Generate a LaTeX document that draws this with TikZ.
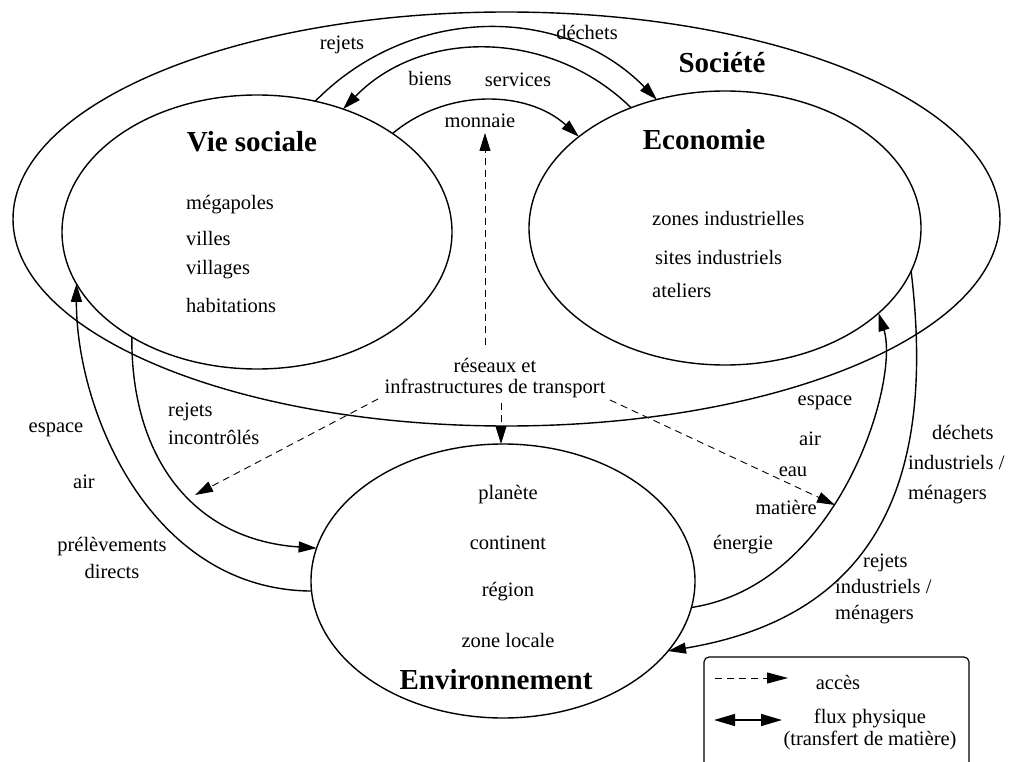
\documentclass[tikz,border=0pt]{standalone}
\usepackage{fontspec}
\setmainfont{Liberation Serif}
\usetikzlibrary{arrows.meta,shapes.geometric}
\begin{document}
\begin{tikzpicture}[x=1pt,y=-1pt,
  every node/.style={font=\fontsize{20.5}{24}\selectfont, inner sep=0pt},
  blob/.style={draw, ellipse, line width=1.4pt, inner sep=0pt, outer sep=0pt},
  title/.style={font=\fontsize{29}{34}\selectfont\bfseries},
  flux/.style={line width=1.4pt, -{Triangle[length=18pt,width=11pt]}},
  acces/.style={line width=0.9pt, dash pattern=on 7pt off 5pt, -{Triangle[length=18pt,width=11pt]}},
  item/.style={anchor=west},
]
\useasboundingbox (0,0) rectangle (1020,762);

% ellipses
\node[blob, minimum width=987pt, minimum height=414pt] (soc) at (506.5,219) {};
\node[blob, minimum width=390pt, minimum height=274pt] (vie) at (257,232) {};
\node[blob, minimum width=392pt, minimum height=274pt] (eco) at (725,228) {};
\node[blob, minimum width=384pt, minimum height=274pt] (env) at (503,581) {};

% titles
\node[title] (tsoc) at (722,63) {Société};
\node[title] (tvie) at (252,142) {Vie sociale};
\node[title] (teco) at (704,140) {Economie};
\node[title] (tenv) at (496,680) {Environnement};

% contents
\node[item] (v1) at (186,205) {mégapoles};
\node[item] (v2) at (186,238) {villes};
\node[item] (v3) at (186,270) {villages};
\node[item] (v4) at (186,305) {habitations};
\node[item] (e1) at (652,218) {zones industrielles};
\node[item] (e2) at (655,257) {sites industriels};
\node[item] (e3) at (652,290) {ateliers};
\node (n1) at (508,495) {planète};
\node (n2) at (508,543) {continent};
\node (n3) at (508,592) {région};
\node (n4) at (508,640) {zone locale};

% transport node
\node[align=center, font=\fontsize{20.5}{21}\selectfont] (res) at (495,378) {réseaux et\\infrastructures de transport};

% physical flows
\draw[flux] (vie.66) .. controls (411,4) and (563,4) .. (eco.118);
\draw[flux] (eco.128) .. controls (552,30) and (423,27) .. (vie.55);
\draw[flux] (vie.36) .. controls (447,88) and (527,90) .. (eco.148);
\draw[flux] (vie.220) .. controls (131,460) and (195,540) .. (env.170);
\draw[flux] (env.183) .. controls (150,590) and (76,410) .. (vie.196);
\draw[flux] (env.352) .. controls (840,585) and (900,380) .. (eco.331);
\draw[flux] (eco.347) .. controls (935,470) and (885,615) .. (env.337);

% access (dashed)
\coordinate (upS) at (485,345);
\coordinate (upT) at (485,133);
\coordinate (dnS) at (501,403);
\coordinate (lfS) at (378,399);
\coordinate (lfT) at (195,495);
\coordinate (rtS) at (610,400);
\coordinate (rtT) at (835,505);
\draw[acces] (upS) -- (upT);
\draw[acces] (dnS) -- (dnS |- env.north);
\draw[acces] (lfS) -- (lfT);
\draw[acces] (rtS) -- (rtT);

% labels
\node (l1) at (342,45) {rejets};
\node (l2) at (587,32) {déchets};
\node (l3) at (430,78) {biens};
\node (l4) at (518,80) {services};
\node (l5) at (480,121) {monnaie};
\node (l6) at (56,430) {espace};
\node (l7) at (84,482) {air};
\node[align=center, font=\fontsize{20.5}{27}\selectfont] (l8) at (112,558) {prélèvements\\directs};
\node[anchor=west, align=left, font=\fontsize{20.5}{28}\selectfont] (l9) at (168,424) {rejets\\incontrôlés};
\node (r1) at (825,403) {espace};
\node (r2) at (810,439) {air};
\node (r3) at (793,472) {eau};
\node (r4) at (786,507) {matière};
\node (r5) at (743,545) {énergie};
\node[anchor=west, align=left, font=\fontsize{20.5}{30}\selectfont] (r6) at (908,465) {\hspace*{24pt}déchets\\industriels /\\ménagers};
\node[anchor=west, align=left, font=\fontsize{20.5}{26}\selectfont] (r7) at (835,589) {\hspace*{28pt}rejets\\industriels /\\ménagers};

% legend
\draw[line width=1.2pt, rounded corners=5pt] (704,657) rectangle (969,800);
\coordinate (la1) at (715,678);
\coordinate (la2) at (788,678);
\coordinate (lb1) at (714,720);
\coordinate (lb2) at (782,720);
\draw[acces, -{Triangle[length=21pt,width=11pt]}] (la1) -- (la2);
\draw[line width=1.4pt, {Triangle[length=21pt,width=12pt]}-{Triangle[length=21pt,width=12pt]}] (lb1) -- (lb2);
\node (lg1) at (838,682) {accès};
\node[align=center, font=\fontsize{20.5}{22}\selectfont] (lg2) at (870,729) {flux physique\\(transfert de matière)};
\end{tikzpicture}
\end{document}
